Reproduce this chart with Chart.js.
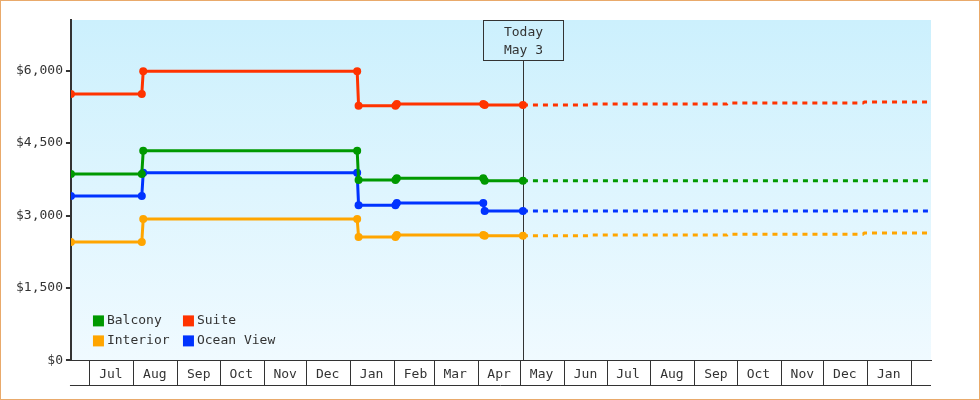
<!DOCTYPE html>
<html>
<head>
<meta charset="utf-8">
<script src="https://cdn.jsdelivr.net/npm/chart.js@4.4.0/dist/chart.umd.min.js"></script>
<style>
  body { margin: 0; background: #fff; }
</style>
</head>
<body>
<canvas id="priceChart" width="980" height="400"></canvas>
<script>
// price history (solid part), dates where a price was seen
const historyDates = ['2022-06-18', '2022-08-07', '2022-08-08', '2023-01-06', '2023-01-07',
                      '2023-02-02', '2023-02-03', '2023-04-05', '2023-04-06', '2023-05-03'];
const balcony   = [3860, 3860, 4340, 4340, 3735, 3735, 3775, 3775, 3720, 3720];
const suite     = [5515, 5515, 5990, 5990, 5275, 5275, 5310, 5310, 5290, 5290];
const interior  = [2450, 2450, 2930, 2930, 2555, 2555, 2595, 2595, 2580, 2580];
const oceanView = [3405, 3405, 3885, 3885, 3215, 3215, 3260, 3260, 3095, 3095];

// forecast (dashed part)
const forecastDates = ['2023-05-03', '2023-06-19', '2023-06-20', '2023-09-24', '2023-09-25',
                       '2023-12-29', '2023-12-30', '2024-02-15'];
const balconyForecast   = [3720, 3720, 3720, 3720, 3720, 3720, 3720, 3720];
const suiteForecast     = [5290, 5290, 5310, 5310, 5330, 5330, 5350, 5350];
const interiorForecast  = [2580, 2580, 2595, 2595, 2615, 2615, 2640, 2640];
const oceanViewForecast = [3095, 3095, 3095, 3095, 3095, 3095, 3095, 3095];

const seriesNames = ['Balcony', 'Suite', 'Interior', 'Ocean View'];
const seriesColors = ['#009900', '#FF3300', '#FFA500', '#0033FF'];
const historyValues = [balcony, suite, interior, oceanView];
const forecastValues = [balconyForecast, suiteForecast, interiorForecast, oceanViewForecast];

// x axis
const monthStarts = ['2022-07-01', '2022-08-01', '2022-09-01', '2022-10-01', '2022-11-01', '2022-12-01',
                     '2023-01-01', '2023-02-01', '2023-03-01', '2023-04-01', '2023-05-01', '2023-06-01',
                     '2023-07-01', '2023-08-01', '2023-09-01', '2023-10-01', '2023-11-01', '2023-12-01',
                     '2024-01-01', '2024-02-01'];
const monthLabels = ['Jul', 'Aug', 'Sep', 'Oct', 'Nov', 'Dec', 'Jan', 'Feb', 'Mar', 'Apr', 'May', 'Jun',
                     'Jul', 'Aug', 'Sep', 'Oct', 'Nov', 'Dec', 'Jan', ''];
const xStart = '2022-06-18';
const xEnd = '2024-02-15';
const todayDate = '2023-05-03';
const todayText = ['Today', 'May 3'];

// y axis
const yTicks = [0, 1500, 3000, 4500, 6000];

const FONT = '13px "DejaVu Sans Mono", monospace';
const INK = '#333';
const CELL_H = 25;

// dates -> day numbers for the linear x scale
function day(s) {
    return Date.UTC(+s.slice(0, 4), +s.slice(5, 7) - 1, +s.slice(8, 10)) / 86400000;
}
function toPoints(dates, values) {
    return dates.map((d, i) => ({ x: day(d), y: values[i] }));
}

let datasets = [];
seriesNames.forEach((name, i) => {
    datasets.push({
        label: name,
        data: toPoints(historyDates, historyValues[i]),
        borderColor: seriesColors[i],
        backgroundColor: seriesColors[i],
        borderWidth: 3,
        pointRadius: 4,
        pointBorderWidth: 0,
        pointHoverRadius: 4
    });
    datasets.push({
        label: name + ' forecast',
        data: toPoints(forecastDates, forecastValues[i]),
        borderColor: seriesColors[i],
        borderWidth: 3,
        borderDash: [5, 5],
        pointRadius: 0
    });
});

const plotBackground = {
    id: 'plotBackground',
    beforeDraw(chart) {
        const { ctx, chartArea: a } = chart;
        const g = ctx.createLinearGradient(0, a.top, 0, a.bottom);
        g.addColorStop(0, '#CCF0FD');
        g.addColorStop(1, '#F0FAFF');
        ctx.save();
        ctx.fillStyle = '#fff';
        ctx.fillRect(0, 0, chart.width, chart.height);
        ctx.fillStyle = g;
        ctx.fillRect(a.left, a.top, a.right - a.left, a.bottom - a.top);
        ctx.restore();
    },
    afterDraw(chart) {
        const { ctx, chartArea: a } = chart;
        const xs = chart.scales.x;
        const y0 = Math.round(a.bottom);
        ctx.save();
        ctx.strokeStyle = INK;
        ctx.lineWidth = 1;
        ctx.beginPath();
        // month cell dividers
        xs.ticks.forEach(t => {
            const px = Math.round(xs.getPixelForValue(t.value)) + 0.5;
            ctx.moveTo(px, y0);
            ctx.lineTo(px, y0 + CELL_H);
        });
        // bottom line of the month cells
        ctx.moveTo(a.left - 1, y0 + CELL_H + 0.5);
        ctx.lineTo(a.right, y0 + CELL_H + 0.5);
        ctx.stroke();
        // outer frame
        ctx.strokeStyle = '#E9AA6B';
        ctx.strokeRect(0.5, 0.5, chart.width - 1, chart.height - 1);
        ctx.restore();
    }
};

const todayMarker = {
    id: 'todayMarker',
    beforeDatasetsDraw(chart) {
        const { ctx, chartArea: a } = chart;
        const x = Math.round(chart.scales.x.getPixelForValue(day(todayDate))) + 0.5;
        const boxW = 80, boxH = 40;
        ctx.save();
        ctx.strokeStyle = INK;
        ctx.lineWidth = 1;
        ctx.strokeRect(x - boxW / 2, a.top + 0.5, boxW, boxH);
        ctx.beginPath();
        ctx.moveTo(x, a.top + boxH);
        ctx.lineTo(x, a.bottom);
        ctx.stroke();
        ctx.fillStyle = INK;
        ctx.font = FONT;
        ctx.textAlign = 'center';
        ctx.textBaseline = 'middle';
        ctx.fillText(todayText[0], x, a.top + 12.5);
        ctx.fillText(todayText[1], x, a.top + 30.5);
        ctx.restore();
    }
};

const cornerLegend = {
    id: 'cornerLegend',
    afterDraw(chart) {
        const { ctx, chartArea: a } = chart;
        ctx.save();
        ctx.font = FONT;
        ctx.textBaseline = 'middle';
        seriesNames.forEach((name, i) => {
            const x = a.left + 22 + (i % 2) * 90;
            const y = a.bottom - 39.5 + Math.floor(i / 2) * 20;
            ctx.fillStyle = seriesColors[i];
            ctx.fillRect(x, y - 5.5, 11, 11);
            ctx.fillStyle = INK;
            ctx.fillText(name, x + 14, y);
        });
        ctx.restore();
    }
};

const ctx = document.getElementById('priceChart').getContext('2d');
const priceChart = new Chart(ctx, {
    type: 'line',
    data: { datasets: datasets },
    plugins: [plotBackground, todayMarker, cornerLegend],
    options: {
        responsive: false,
        animation: false,
        layout: { padding: { left: 13, top: 20, right: 49, bottom: 12 } },
        plugins: {
            legend: { display: false },
            tooltip: { enabled: false }
        },
        scales: {
            x: {
                type: 'linear',
                min: day(xStart),
                max: day(xEnd),
                afterBuildTicks: (scale) => {
                    scale.ticks = monthStarts.map(d => ({ value: day(d) }));
                },
                grid: { drawOnChartArea: false, drawTicks: false },
                border: { color: INK, width: 1 },
                ticks: {
                    autoSkip: false,
                    maxRotation: 0,
                    labelOffset: 21.5,
                    padding: 6,
                    color: INK,
                    font: { family: '"DejaVu Sans Mono", monospace', size: 13 },
                    callback: (value, index) => monthLabels[index]
                }
            },
            y: {
                min: 0,
                max: 7050,
                afterBuildTicks: (scale) => {
                    scale.ticks = yTicks.map(v => ({ value: v }));
                },
                grid: { drawOnChartArea: false, color: INK, lineWidth: 2, tickLength: 5 },
                border: { color: INK, width: 2 },
                ticks: {
                    padding: 3,
                    color: INK,
                    font: { family: '"DejaVu Sans Mono", monospace', size: 13 },
                    callback: (value) => '$' + value.toLocaleString('en-US')
                }
            }
        }
    }
});
</script>
</body>
</html>
